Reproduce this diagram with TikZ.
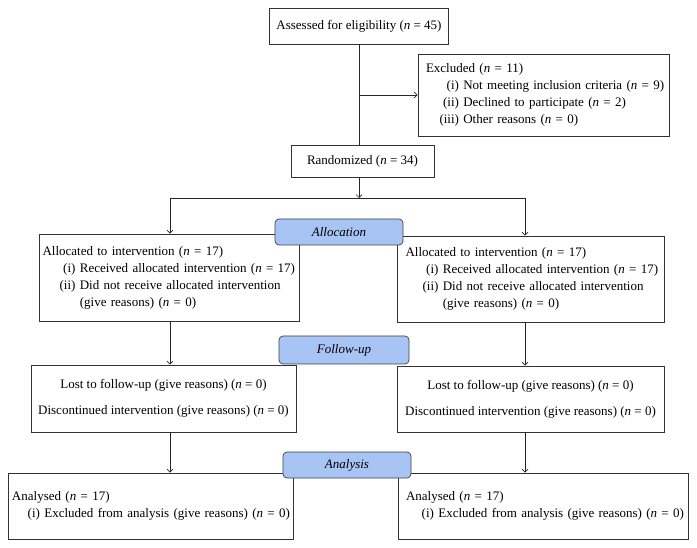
\documentclass[tikz,border=0pt]{standalone}
\usepackage{fontspec}
\setmainfont{Liberation Serif}
\usepackage{tikz}
\usetikzlibrary{positioning,
        arrows.meta}
\usepackage{xcolor}
\definecolor{phaseblue}{RGB}{168,196,245}
\newcommand{\nval}[1]{(\textit{n} = #1)}
\newcommand{\itm}[3][33pt]{\mbox{\makebox[#1][r]{#2}\ #3}}

\begin{document}
\begin{tikzpicture}[x=1pt,y=-1pt,
            box/.style={draw=black!80,line width=0.7pt,rectangle,inner ysep=0pt,font=\fontsize{13}{17}\selectfont},
            lbox/.style={box,align=left,text width=#1},
            cbox/.style={box,align=center,font=\fontsize{13}{26}\selectfont},
            phase/.style={draw=black!75,line width=0.7pt,fill=phaseblue,rounded corners=4pt,minimum width=128pt,minimum height=26pt,font=\fontsize{13}{15}\selectfont\itshape},
            arr/.style={-{Straight Barb[length=3pt,width=6pt]},line width=0.7pt,draw=black!85}]
            \useasboundingbox (0,0) rectangle (697,548);

            \node [box,minimum width=179pt,minimum height=36pt] (assess) at (359,26) {Assessed for eligibility \nval{45}};
            \node [lbox=235pt,inner xsep=8pt,minimum height=82pt] (excl) at (543.5,95) {Excluded \nval{11}\\
                \itm{(i)}{Not meeting inclusion criteria \nval{9}}\\
                \itm{(ii)}{Declined to participate \nval{2}}\\
                \itm{(iii)}{Other reasons \nval{0}}};
            \node [box,minimum width=143pt,minimum height=32pt] (rand) at (362.5,161) {Randomized \nval{34}};

            \node [lbox=253pt,inner xsep=3.5pt,minimum height=87pt] (allocL) at (169,277.5) {Allocated to intervention \nval{17}\\
                \itm{(i)}{Received allocated intervention \nval{17}}\\
                \itm{(ii)}{Did not receive allocated intervention}\\
                \itm{}{(give reasons) \nval{0}}};
            \node [lbox=250pt,inner xsep=8.5pt,minimum height=86pt] (allocR) at (530.5,279) {Allocated to intervention \nval{17}\\
                \itm{(i)}{Received allocated intervention \nval{17}}\\
                \itm{(ii)}{Did not receive allocated intervention}\\
                \itm{}{(give reasons) \nval{0}}};

            \node [cbox,minimum width=265pt,minimum height=67pt] (followL) at (163.5,398.5) {Lost to follow-up (give reasons) \nval{0}\\
                Discontinued intervention (give reasons) \nval{0}};
            \node [cbox,minimum width=267pt,minimum height=66pt] (followR) at (530.5,399) {Lost to follow-up (give reasons) \nval{0}\\
                Discontinued intervention (give reasons) \nval{0}};

            \node [lbox=277pt,inner xsep=4pt,minimum height=66pt] (anaL) at (150.5,506) {Analysed \nval{17}\\
                \itm[28pt]{(i)}{Excluded from analysis (give reasons) \nval{0}}};
            \node [lbox=274pt,inner xsep=8pt,minimum height=66pt] (anaR) at (543,506) {Analysed \nval{17}\\
                \itm[28pt]{(i)}{Excluded from analysis (give reasons) \nval{0}}};

            \node [phase] (allocation) at (339,232) {Allocation};
            \node [phase,minimum width=130pt,minimum height=28pt] (followup) at (344,350) {Follow-up};
            \node [phase] (analysis) at (347,465) {Analysis};

            \coordinate (branch) at (359,95);
            \coordinate (split) at (359,198);
            \coordinate (colL) at (170,0);
            \coordinate (colR) at (525,0);

            \draw [line width=0.7pt,draw=black!85] (assess.south) -- (assess.south |- rand.north);
            \draw [arr] (branch) -- (excl.west |- branch);
            \draw [arr] (rand.south -| split) -- (split);
            \draw [arr] (split) -| (allocL.north -| colL);
            \draw [arr] (split) -| (allocR.north -| colR);
            \draw [arr] (allocL.south -| colL) -- (followL.north -| colL);
            \draw [arr] (allocR.south -| colR) -- (followR.north -| colR);
            \draw [arr] (followL.south -| colL) -- (anaL.north -| colL);
            \draw [arr] (followR.south -| colR) -- (anaR.north -| colR);
        \end{tikzpicture}
\end{document}
